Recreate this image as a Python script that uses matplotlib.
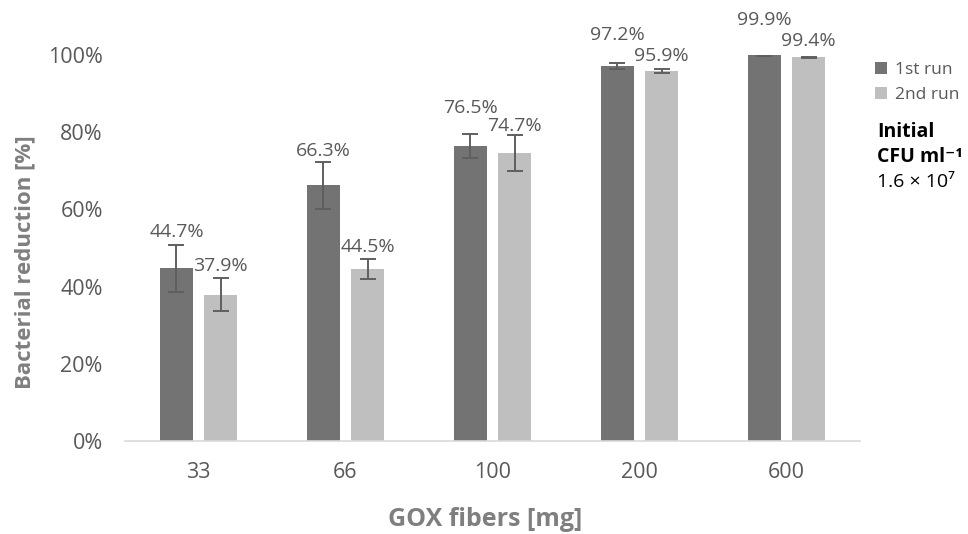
import matplotlib
matplotlib.use("Agg")
import matplotlib.pyplot as plt
import numpy as np

categories = ["33", "66", "100", "200", "600"]
run1 = [44.7, 66.3, 76.5, 97.2, 99.9]
run2 = [37.9, 44.5, 74.7, 95.9, 99.4]
err1 = [6.2, 6.1, 3.1, 0.8, 0.1]
err2 = [4.3, 2.6, 4.7, 0.6, 0.2]
yticks = [0, 20, 40, 60, 80, 100]

# label gap above error-bar top (pixels), layout only
gap1 = [8, 6, 21, 23, 30]
gap2 = [7, 7, 4, 8, 11]

plt.rcParams['font.family'] = ['Open Sans', 'DejaVu Sans']
txt = '#595959'
c1 = '#737373'
c2 = '#bfbfbf'

W, H = 968, 534
fig = plt.figure(figsize=(W/100, H/100), dpi=100)
ax = fig.add_axes([125/W, 1-441/H, 735/W, (441-55)/H])
px_per_pct = (441-55)/100.0

x = np.arange(len(categories))
w = 0.225
off = 0.15
ax.bar(x-off, run1, w, color=c1, label='1st run', zorder=2)
ax.bar(x+off, run2, w, color=c2, label='2nd run', zorder=2)
ekw = dict(fmt='none', ecolor='#5f5f5f', elinewidth=1.4, capsize=5.5, capthick=1.4, zorder=3)
ax.errorbar(x-off, run1, yerr=err1, **ekw)
ax.errorbar(x+off, run2, yerr=err2, **ekw)

for xs, vals, errs, gaps in ((x-off, run1, err1, gap1), (x+off, run2, err2, gap2)):
    for xi, v, e, g in zip(xs, vals, errs, gaps):
        ax.text(xi, v+e+g/px_per_pct, f"{v:.1f}%", ha='center', va='baseline',
                fontsize=14, color=txt, clip_on=False)

ax.set_xlim(-0.5, len(categories)-0.5)
ax.set_ylim(0, 100)
ax.set_xticks(x)
ax.set_xticklabels(categories)
ax.set_yticks(yticks)
ax.set_yticklabels([f"{t}%" for t in yticks])
ax.tick_params(axis='both', length=0, labelsize=15.5, colors=txt)
ax.tick_params(axis='x', pad=15)
ax.tick_params(axis='y', pad=16)
for s in ['top', 'right', 'left']:
    ax.spines[s].set_visible(False)
ax.spines['bottom'].set_color('#d9d9d9')
ax.spines['bottom'].set_linewidth(1.2)

fig.text(25/W, 1-262/H, 'Bacterial reduction [%]', rotation=90, fontsize=16, fontweight='bold',
         color='#7f7f7f', ha='center', va='center')
fig.text(485/W, 1-519/H, 'GOX fibers [mg]', fontsize=18, fontweight='bold',
         color='#7f7f7f', ha='center', va='center')

leg = ax.legend(loc='upper left', bbox_to_anchor=(875/W, 1-62/H), bbox_transform=fig.transFigure,
                frameon=False, handlelength=0.7, handleheight=0.7, handletextpad=0.45,
                fontsize=12.5, labelspacing=0.5, borderaxespad=0, borderpad=0)
for t in leg.get_texts():
    t.set_color(txt)

fig.text(877/W, 1-132/H, 'Initial', fontsize=14, fontweight='bold', color='black', va='center')
fig.text(877/W, 1-157/H, 'CFU ml⁻¹', fontsize=14, fontweight='bold', color='black', va='center')
fig.text(877/W, 1-182/H, '1.6 × 10⁷', fontsize=14, color='black', va='center')

fig.savefig('out.png', dpi=100)
